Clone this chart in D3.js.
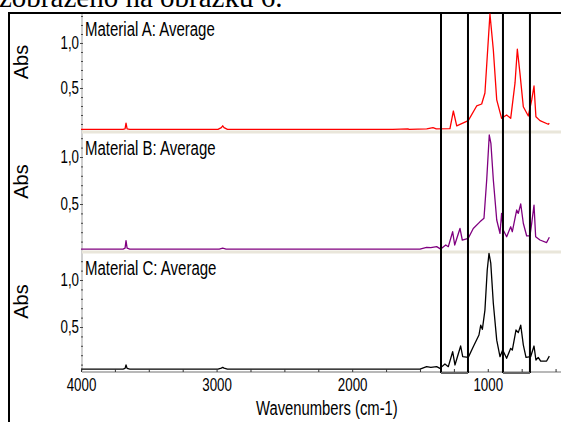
<!DOCTYPE html>
<html>
<head>
<meta charset="utf-8">
<script src="https://cdn.jsdelivr.net/npm/d3@7"></script>
<style>
  body { margin: 0; background: #fff; }
  svg { display: block; }
  text.narrow { font-family: "Liberation Sans", Arial, sans-serif; }
</style>
</head>
<body>
<svg id="chart" width="561" height="422"></svg>
<script>
// ---- data ----
const materials = ["Material A: Average", "Material B: Average", "Material C: Average"];
const colors = ["#ff0000", "#800080", "#000000"];

const wnA = [4000, 3690, 3675, 3668, 3660, 3640, 2990, 2965, 2955, 2945, 2920, 1700, 1589, 1580, 1450, 1404, 1380, 1279, 1254, 1229, 1144, 1082, 1045, 1021, 984, 959, 934, 898, 861, 831, 799, 782, 763, 738, 701, 676, 659, 645, 615, 554, 546];
const absA = [0.04, 0.04, 0.045, 0.11, 0.045, 0.04, 0.04, 0.06, 0.08, 0.06, 0.04, 0.04, 0.045, 0.04, 0.045, 0.059, 0.045, 0.048, 0.244, 0.078, 0.137, 0.30, 0.322, 0.444, 1.322, 0.922, 0.367, 0.163, 0.2, 0.163, 0.556, 0.93, 0.667, 0.292, 0.189, 0.367, 0.522, 0.181, 0.137, 0.097, 0.108];

const wnB = [4000, 3690, 3675, 3668, 3660, 3640, 2980, 2955, 2930, 1500, 1451, 1420, 1377, 1347, 1310, 1291, 1259, 1244, 1205, 1188, 1144, 1107, 1058, 1028, 1008, 989, 977, 959, 934, 910, 898, 886, 861, 831, 819, 787, 775, 757, 738, 713, 689, 676, 659, 647, 615, 566, 546];
const absB = [0.021, 0.021, 0.03, 0.11, 0.03, 0.021, 0.021, 0.03, 0.021, 0.021, 0.039, 0.035, 0.046, 0.02, 0.064, 0.046, 0.205, 0.064, 0.24, 0.117, 0.135, 0.24, 0.31, 0.348, 0.755, 1.234, 1.146, 0.755, 0.33, 0.188, 0.40, 0.223, 0.152, 0.258, 0.205, 0.436, 0.40, 0.5, 0.295, 0.16, 0.16, 0.295, 0.489, 0.152, 0.117, 0.09, 0.146];

const wnC = [4000, 3690, 3675, 3668, 3660, 3640, 2990, 2965, 2955, 2945, 2920, 1500, 1451, 1420, 1377, 1353, 1316, 1291, 1259, 1242, 1200, 1185, 1144, 1107, 1065, 1052, 1040, 1021, 1004, 991, 978, 959, 934, 910, 890, 861, 831, 819, 792, 775, 757, 738, 718, 684, 659, 645, 628, 610, 566, 546];
const absC = [0.053, 0.053, 0.06, 0.096, 0.06, 0.053, 0.053, 0.062, 0.07, 0.062, 0.053, 0.053, 0.078, 0.07, 0.078, 0.06, 0.106, 0.078, 0.237, 0.096, 0.298, 0.184, 0.177, 0.29, 0.415, 0.52, 0.475, 0.68, 1.106, 1.284, 1.18, 0.75, 0.36, 0.184, 0.255, 0.167, 0.273, 0.255, 0.468, 0.44, 0.52, 0.31, 0.177, 0.184, 0.298, 0.149, 0.177, 0.138, 0.138, 0.19];

const xTicks = [4000, 3000, 2000, 1000];
const yTicks = [0.5, 1.0];
const regions = [[1345, 1146], [888, 689]]; // marked bands, cm-1

const series = [
  {wn: wnA, abs: absA},
  {wn: wnB, abs: absB},
  {wn: wnC, abs: absC}
];

// ---- layout ----
const svg = d3.select("#chart");
const plotLeft = 81, plotRight = 561;
// each panel: pixel band and its own abs range
const panels = [
  {top: 13,  bottom: 131, domain: [0.022, 1.333]},
  {top: 132, bottom: 251, domain: [0.0, 1.266]},
  {top: 252, bottom: 371, domain: [0.032, 1.298]}
];

const x = d3.scaleLinear().domain([4000, 460]).range([plotLeft, plotRight]);
const fmt = d => d3.format(".1f")(d).replace(".", ",");

// squeeze text horizontally to mimic the narrow face of the original
function condense(sel, k) {
  sel.each(function() {
    const w = this.getComputedTextLength();
    d3.select(this).attr("textLength", w * k).attr("lengthAdjust", "spacingAndGlyphs");
  });
}

// clipped heading text of the page above the figure
svg.append("text")
  .attr("x", -1).attr("y", 7)
  .style("font-family", "Liberation Serif, serif")
  .style("font-size", "29px")
  .text("zobrazeno na obrázku 6.");

// outer frame
svg.append("line").attr("x1", 9).attr("x2", 9).attr("y1", 12).attr("y2", 422)
  .attr("stroke", "#000").attr("stroke-width", 2);
svg.append("line").attr("x1", 8).attr("x2", 561).attr("y1", 13).attr("y2", 13)
  .attr("stroke", "#000").attr("stroke-width", 2);

// left axis backing line
svg.append("line").attr("x1", plotLeft + 1).attr("x2", plotLeft + 1).attr("y1", 14).attr("y2", 372)
  .attr("stroke", "#cfcfcf").attr("stroke-width", 2);

panels.forEach((p, i) => {
  const y = d3.scaleLinear().domain(p.domain).range([p.bottom, p.top]);
  const g = svg.append("g").attr("class", "panel");

  // separator / bottom line of the panel
  g.append("line")
    .attr("x1", plotLeft + 1).attr("x2", plotRight)
    .attr("y1", p.bottom + 1).attr("y2", p.bottom + 1)
    .attr("stroke", i < 2 ? "#e9e6da" : "#b8b8b8")
    .attr("stroke-width", i < 2 ? 3 : 2);

  // minor y ticks (dots)
  const minor = d3.range(0.1, p.domain[1], 0.1);
  const yMinor = d3.axisRight(y).tickValues(minor).tickSize(2).tickFormat("");
  g.append("g").attr("transform", `translate(${plotLeft},0)`).call(yMinor)
    .call(a => a.select(".domain").remove())
    .selectAll("line").attr("stroke", "#444");

  // labelled y ticks
  const yAxis = d3.axisLeft(y).tickValues(yTicks).tickSize(2).tickPadding(1).tickFormat(fmt);
  g.append("g").attr("transform", `translate(${plotLeft + 1},0)`).call(yAxis)
    .call(a => a.select(".domain").remove())
    .call(a => a.selectAll("line").attr("stroke", "#444"))
    .selectAll("text")
      .attr("class", "narrow")
      .style("font-size", "18px")
      .attr("fill", "#000")
      .call(condense, 0.74);

  // spectrum
  const pts = series[i].wn.map((w, k) => [w, series[i].abs[k]]);
  g.append("path")
    .datum(pts)
    .attr("fill", "none")
    .attr("stroke", colors[i])
    .attr("stroke-width", 1.3)
    .attr("stroke-linejoin", "round")
    .attr("d", d3.line().x(d => x(d[0])).y(d => y(d[1])));

  // panel title
  g.append("text")
    .attr("class", "narrow")
    .attr("x", plotLeft + 4)
    .attr("y", p.top + 23)
    .style("font-size", "20px")
    .text(materials[i])
    .call(condense, 0.75);

  // Abs label
  g.append("text")
    .attr("transform", `translate(28,${(p.top + p.bottom) / 2 - 10}) rotate(-90)`)
    .attr("text-anchor", "middle")
    .style("font-family", "Liberation Sans, Arial, sans-serif")
    .style("font-size", "20px")
    .text("Abs");
});

// bottom x axis
const last = panels[2];
const xMinor = d3.axisTop(x).tickValues(d3.range(4000, 459, -250)).tickSize(3).tickFormat("");
svg.append("g").attr("transform", `translate(0,${last.bottom + 1})`).call(xMinor)
  .call(a => a.select(".domain").remove())
  .selectAll("line").attr("stroke", "#333");

const xAxis = d3.axisBottom(x).tickValues(xTicks).tickSize(0).tickPadding(6).tickFormat(d3.format("d"));
svg.append("g").attr("transform", `translate(0,${last.bottom + 1})`).call(xAxis)
  .call(a => a.select(".domain").remove())
  .selectAll("text")
    .attr("class", "narrow")
    .style("font-size", "18px")
    .attr("fill", "#000")
    .call(condense, 0.74);

svg.append("text")
  .attr("class", "narrow")
  .attr("x", 256)
  .attr("y", 415)
  .style("font-size", "20px")
  .text("Wavenumbers (cm-1)")
  .call(condense, 0.74);

// marked wavenumber bands
regions.forEach(r => {
  [r[0], r[1]].forEach(w => {
    svg.append("line")
      .attr("x1", x(w)).attr("x2", x(w))
      .attr("y1", 13).attr("y2", last.bottom + 2)
      .attr("stroke", "#000").attr("stroke-width", 2);
  });
  svg.append("line")
    .attr("x1", x(r[0])).attr("x2", x(r[1]))
    .attr("y1", last.bottom + 2).attr("y2", last.bottom + 2)
    .attr("stroke", "#666").attr("stroke-width", 2);
});
</script>
</body>
</html>
